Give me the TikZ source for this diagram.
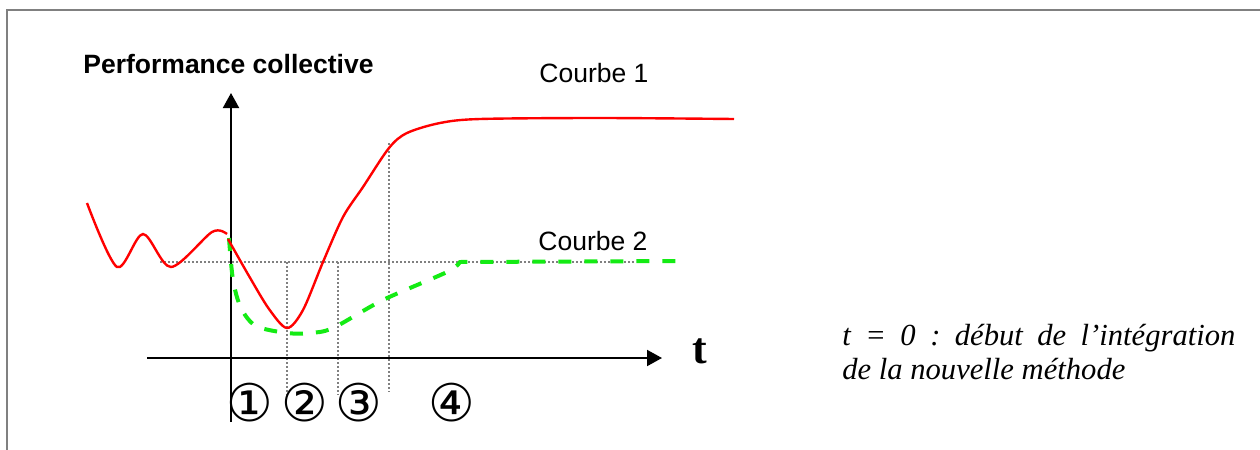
\documentclass[tikz,border=0pt]{standalone}
\usepackage{fontspec}
\setmainfont{Liberation Serif}
\setsansfont{Liberation Sans}
\newfontfamily\symbfont{DejaVu Sans}
\usetikzlibrary{arrows.meta}
\frenchspacing

\definecolor{gris}{RGB}{128,128,128}
\definecolor{vert}{RGB}{20,235,20}

\tikzset{
  courbeun/.style={red, line width=1.2pt},
  courbedeux/.style={vert, line width=2pt, dash pattern=on 6.5pt off 6.5pt},
  pointille/.style={gris, line width=1.3pt, dash pattern=on 1pt off 1pt},
  axe/.style={line width=1pt, -{Triangle[length=7.5pt,width=8pt]}},
  etiquette/.style={font=\sffamily\fontsize{13.25}{15}\selectfont, anchor=base west, inner sep=0pt},
  legende/.style={font=\itshape\fontsize{15.3}{17}\selectfont, anchor=base west, inner sep=0pt},
  numero/.style={font=\symbfont\fontsize{26}{26}\selectfont, inner sep=0pt},
}

\begin{document}
\begin{tikzpicture}[x=0.5pt,y=-0.5pt]
\useasboundingbox (0,0) rectangle (1260,450);
% cadre
\draw[gris, line width=1pt] (7,450) -- (7,10) -- (1260,10);

% reperes en pointilles
\draw[pointille] (160,262) -- (635,262);
\draw[pointille] (287,262) -- (287,395);
\draw[pointille] (338,262) -- (338,395);
\draw[pointille] (389,143) -- (389,392);

% axes
\coordinate (ybas) at (231,422);
\coordinate (yhaut) at (231,93);
\coordinate (xgauche) at (147,358);
\coordinate (xdroite) at (662,358);
\draw[axe] (ybas) -- (yhaut);
\draw[axe] (xgauche) -- (xdroite);

% courbe 2
\draw[courbedeux] plot[smooth] coordinates {(229,238) (233,280) (241,308) (256,326) (287,333) (310,333) (333,328) (383,300) (447,272) (460,262)} -- (687,261);

% courbe 1
\draw[courbeun] plot[smooth] coordinates {(87,203) (117,267) (143,234) (171,267) (212,232) (227,234)};
\draw[courbeun] plot[smooth] coordinates {(228,239) (249,276) (269,309) (287,328) (303,310) (323,262) (343,217) (363,187) (389,148) (407,133) (440,123) (480,119) (600,118) (734,119)};

% textes
\node[etiquette, font=\sffamily\bfseries\fontsize{13.25}{15}\selectfont] (titre) at (83,73) {Performance collective};
\node[etiquette] (courbe1) at (539,82) {Courbe 1};
\node[etiquette] (courbe2) at (538,250) {Courbe 2};
\node[anchor=base west, inner sep=0pt, font=\bfseries\fontsize{22}{22}\selectfont] (temps) at (692,363) {t};
\node[legende] (legende) at (842,345) {\makebox[196.5pt][s]{t = 0 : début de l’intégration}};
\node[legende] (legendesuite) at (842,379) {de la nouvelle méthode};

% phases
\node[numero] (phase1) at (250,403) {①};
\node[numero] (phase2) at (305,403) {②};
\node[numero] (phase3) at (359,403) {③};
\node[numero] (phase4) at (452,403) {④};

\end{tikzpicture}
\end{document}
